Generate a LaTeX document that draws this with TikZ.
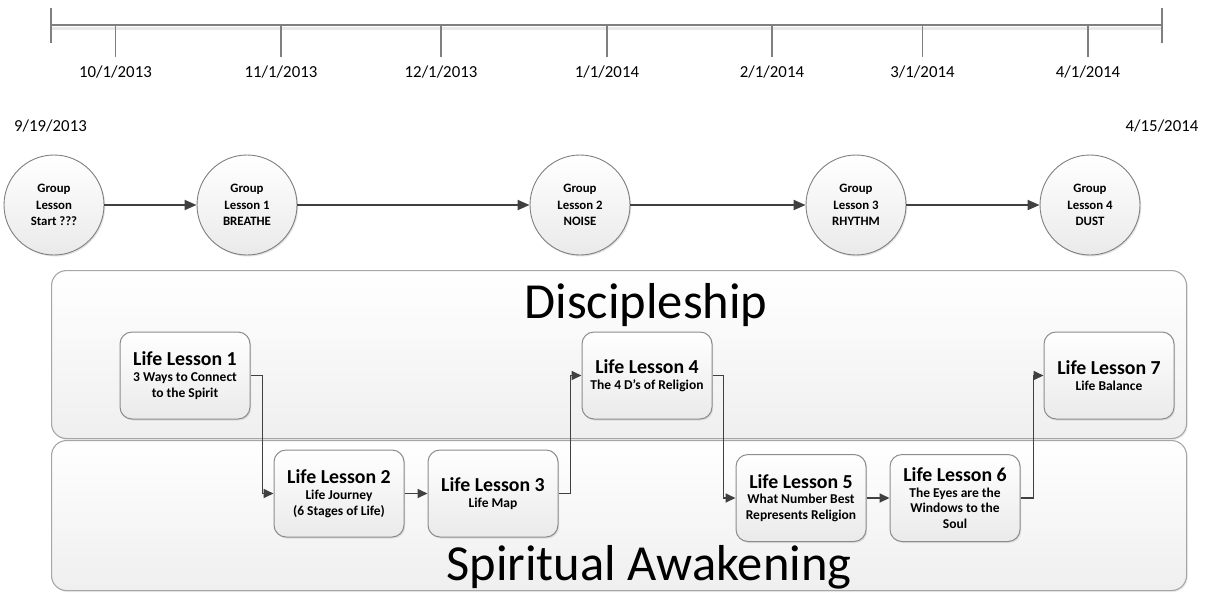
\documentclass[tikz,border=0pt]{standalone}
\usepackage{fontspec}
\setmainfont{Carlito}
\usetikzlibrary{shadows,arrows.meta}
\definecolor{axisgray}{HTML}{7F7F7F}
\definecolor{axisshadow}{HTML}{E8E8E8}
\definecolor{linkgray}{HTML}{404040}
\definecolor{boxborder}{HTML}{8C8C8C}
\definecolor{laneborder}{HTML}{A6A6A6}
\definecolor{fillbottom}{HTML}{EAEAEA}
\definecolor{lanebottom}{HTML}{EFEFEF}
\newcommand\lltitle[1]{{\fontsize{19.8}{22}\selectfont #1}}
\begin{document}
\begin{tikzpicture}[x=1pt,y=-1pt,
  axisline/.style={draw=axisgray, line width=1.6pt},
  ticklabel/.style={font=\fontsize{16.8}{19}\selectfont, inner sep=0pt},
  groupc/.style={circle, draw=axisgray, line width=0.9pt, top color=white, bottom color=fillbottom,
    minimum size=100pt, inner sep=0pt, align=center,
    font=\fontsize{12.8}{16.5}\selectfont\bfseries,
    drop shadow={shadow xshift=1.2pt, shadow yshift=-1.5pt, fill=black!22}},
  lane/.style={rectangle, rounded corners=15pt, draw=laneborder, line width=1.1pt,
    top color=white, bottom color=lanebottom, minimum width=1135pt, inner sep=0pt,
    drop shadow={shadow xshift=1.2pt, shadow yshift=-1.5pt, fill=black!15}},
  lanetitle/.style={font=\fontsize{50.5}{56}\selectfont, inner sep=0pt, anchor=base},
  lesson/.style={rectangle, rounded corners=12pt, draw=boxborder, line width=1pt,
    top color=white, bottom color=fillbottom, minimum width=130pt, minimum height=87pt,
    inner sep=2pt, align=center, font=\fontsize{13.5}{15.8}\selectfont\bfseries,
    drop shadow={shadow xshift=1.2pt, shadow yshift=-1.5pt, fill=black!22}},
  garrow/.style={draw=linkgray, line width=1.9pt, -{Triangle[length=12pt,width=10pt]}},
  larrow/.style={draw=linkgray, line width=1.7pt, -{Triangle[length=10pt,width=9pt]}}
]
\useasboundingbox (0,0) rectangle (1207,592);

% timeline
\coordinate (tl) at (51,25);
\coordinate (tr) at (1162,25);
\draw[axisshadow, line width=2.5pt] (51,28.5) -- (1162,28.5);
\draw[axisline] (tl) -- (tr);
\draw[axisline, line width=1.4pt] (51,8) -- (51,43);
\draw[axisline, line width=1.4pt] (1162,8) -- (1162,43);
\foreach \x in {115.5, 281, 441, 607, 772, 922.5, 1088}{
  \draw[axisline, line width=1.3pt] (\x,25) -- (\x,57);
}
\node[ticklabel] (d1) at (115.5,72) {10/1/2013};
\node[ticklabel] (d2) at (281,72) {11/1/2013};
\node[ticklabel] (d3) at (441,72) {12/1/2013};
\node[ticklabel] (d4) at (607,72) {1/1/2014};
\node[ticklabel] (d5) at (772,72) {2/1/2014};
\node[ticklabel] (d6) at (922.5,72) {3/1/2014};
\node[ticklabel] (d7) at (1088,72) {4/1/2014};
\node[ticklabel] (ds) at (50.5,126) {9/19/2013};
\node[ticklabel] (de) at (1162,126) {4/15/2014};

% group lessons
\node[groupc] (g0) at (54,205) {Group\\Lesson\\Start ???};
\node[groupc] (g1) at (247,205) {Group\\Lesson 1\\BREATHE};
\node[groupc] (g2) at (580,205) {Group\\Lesson 2\\NOISE};
\node[groupc] (g3) at (856,205) {Group\\Lesson 3\\RHYTHM};
\node[groupc] (g4) at (1090,205) {Group\\Lesson 4\\DUST};
\draw[garrow] (g0) -- (g1);
\draw[garrow] (g1) -- (g2);
\draw[garrow] (g2) -- (g3);
\draw[garrow] (g3) -- (g4);

% lanes
\node[lane, minimum height=168pt, anchor=north west] (disc) at (51,270) {};
\node[lane, minimum height=150pt, anchor=north west] (spir) at (51,440) {};
\node[lanetitle] (disct) at (646,318) {Discipleship};
\node[lanetitle] (spirt) at (649,580) {Spiritual Awakening};

% life lessons
\node[lesson] (l1) at (185,375.5) {\lltitle{Life Lesson 1}\\3 Ways to Connect\\to the Spirit};
\node[lesson] (l2) at (339,493.5) {\lltitle{Life Lesson 2}\\Life Journey\\(6 Stages of Life)};
\node[lesson] (l3) at (493,493.5) {\lltitle{Life Lesson 3}\\Life Map};
\node[lesson] (l4) at (647,375.5) {\lltitle{Life Lesson 4}\\The 4 D’s of Religion};
\node[lesson] (l5) at (801,498) {\lltitle{Life Lesson 5}\\What Number Best\\Represents Religion};
\node[lesson] (l6) at (955,498) {\lltitle{Life Lesson 6}\\The Eyes are the\\Windows to the\\Soul};
\node[lesson] (l7) at (1109,375.5) {\lltitle{Life Lesson 7}\\Life Balance};

\draw[larrow] (l1.east) -- ++(12,0) |- (l2.west);
\draw[larrow] (l2) -- (l3);
\draw[larrow] (l3.east) -- ++(12,0) |- (l4.west);
\draw[larrow] (l4.east) -- ++(11,0) |- (l5.west);
\draw[larrow] (l5) -- (l6);
\draw[larrow] (l6.east) -- ++(13,0) |- (l7.west);
\end{tikzpicture}
\end{document}
